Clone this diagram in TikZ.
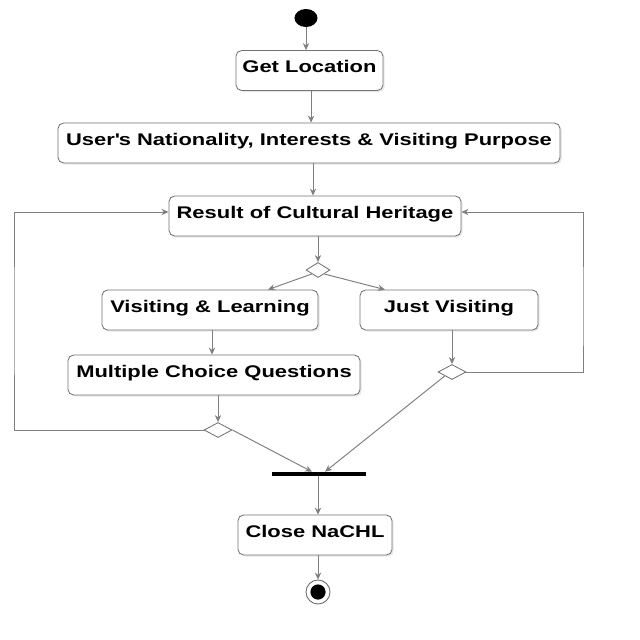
\documentclass[tikz,border=0pt]{standalone}
\usepackage{fontspec}
\setmainfont[FakeStretch=1.3]{Liberation Sans}
\usetikzlibrary{shapes.geometric,arrows.meta,shadows}
\begin{document}
\begin{tikzpicture}[x=0.025cm,y=-0.025cm,
  act/.style={draw=black!55, line width=0.6pt, rounded corners=4pt, fill=white,
    inner xsep=0pt, inner ysep=0pt, text height=15.7pt, text depth=12.7pt,
    font=\bfseries\fontsize{12}{14}\selectfont,
    drop shadow={opacity=0.18, shadow xshift=1.2pt, shadow yshift=-1.2pt}},
  dec/.style={diamond, draw=black!55, line width=0.6pt, fill=white, inner sep=0pt},
  flow/.style={draw=black!50, line width=0.7pt, -{Stealth[length=5pt,width=4.5pt]}},
  link/.style={draw=black!50, line width=0.7pt}]
\useasboundingbox (0,0) rectangle (640,640);

\node[ellipse, fill=black, inner sep=0pt, minimum width=0.575cm, minimum height=0.45cm] (start) at (306,18) {};
\node[act, minimum width=3.675cm] (getloc) at (309.5,70.5) {Get Location};
\node[act, minimum width=12.55cm] (users) at (309,143) {User\textquotesingle s Nationality, Interests \& Visiting Purpose};
\node[act, minimum width=7.3cm] (result) at (315,216) {Result of Cultural Heritage};
\node[dec, minimum width=0.6cm, minimum height=0.375cm] (d1) at (318,270) {};
\node[act, minimum width=5.4cm] (vl) at (210,310) {Visiting \& Learning};
\node[act, minimum width=4.45cm] (jv) at (449,310) {Just Visiting};
\node[act, minimum width=7.3cm] (mcq) at (214,375) {Multiple Choice Questions};
\node[dec, minimum width=0.7cm, minimum height=0.375cm] (d2) at (218,430) {};
\node[dec, minimum width=0.7cm, minimum height=0.375cm] (d3) at (452,372) {};
\node[rectangle, fill=black, inner sep=0pt, minimum width=2.35cm, minimum height=0.1cm] (fork) at (319,474) {};
\node[act, minimum width=3.85cm] (close) at (315,535) {Close NaCHL};
\node[circle, draw=black!60, line width=0.6pt, fill=white, inner sep=0pt, minimum size=0.6cm,
  path picture={\fill[black] (path picture bounding box.center) circle (0.19cm);}] (end) at (318,592) {};

\coordinate (lft) at (14,320);
\coordinate (rgt) at (583,320);

\draw[flow] (start.south) -- (start.south |- getloc.north);
\draw[flow] ([xshift=0.04cm]getloc.south) -- ([xshift=0.04cm]getloc.south |- users.north);
\draw[flow] ([xshift=0.1cm]users.south) -- ([xshift=0.1cm]users.south |- result.north);
\draw[flow] (result.south -| d1.north) -- (d1.north);
\draw[flow] (d1.south west) -- ([xshift=1.45cm]vl.north);
\draw[flow] (d1.south east) -- ([xshift=-1.6cm]jv.north);
\draw[flow] ([xshift=0.05cm]vl.south) -- ([xshift=0.05cm]vl.south |- mcq.north);
\draw[flow] (d2.north |- mcq.south) -- (d2.north);
\draw[flow] (d3.north |- jv.south) -- (d3.north);
\draw[flow] (d2.west) -| (lft) |- ([yshift=0.1cm]result.west);
\draw[flow] (d3.east) -| (rgt) |- ([yshift=0.1cm]result.east);
\draw[flow] (d2.east) -- ([xshift=-0.175cm]fork.north);
\draw[flow] (d3.south west) -- ([xshift=0.15cm]fork.north);
\draw[flow] (fork.south -| end.north) -- (end.north |- close.north);
\draw[flow] (end.north |- close.south) -- (end.north);
\end{tikzpicture}
\end{document}
